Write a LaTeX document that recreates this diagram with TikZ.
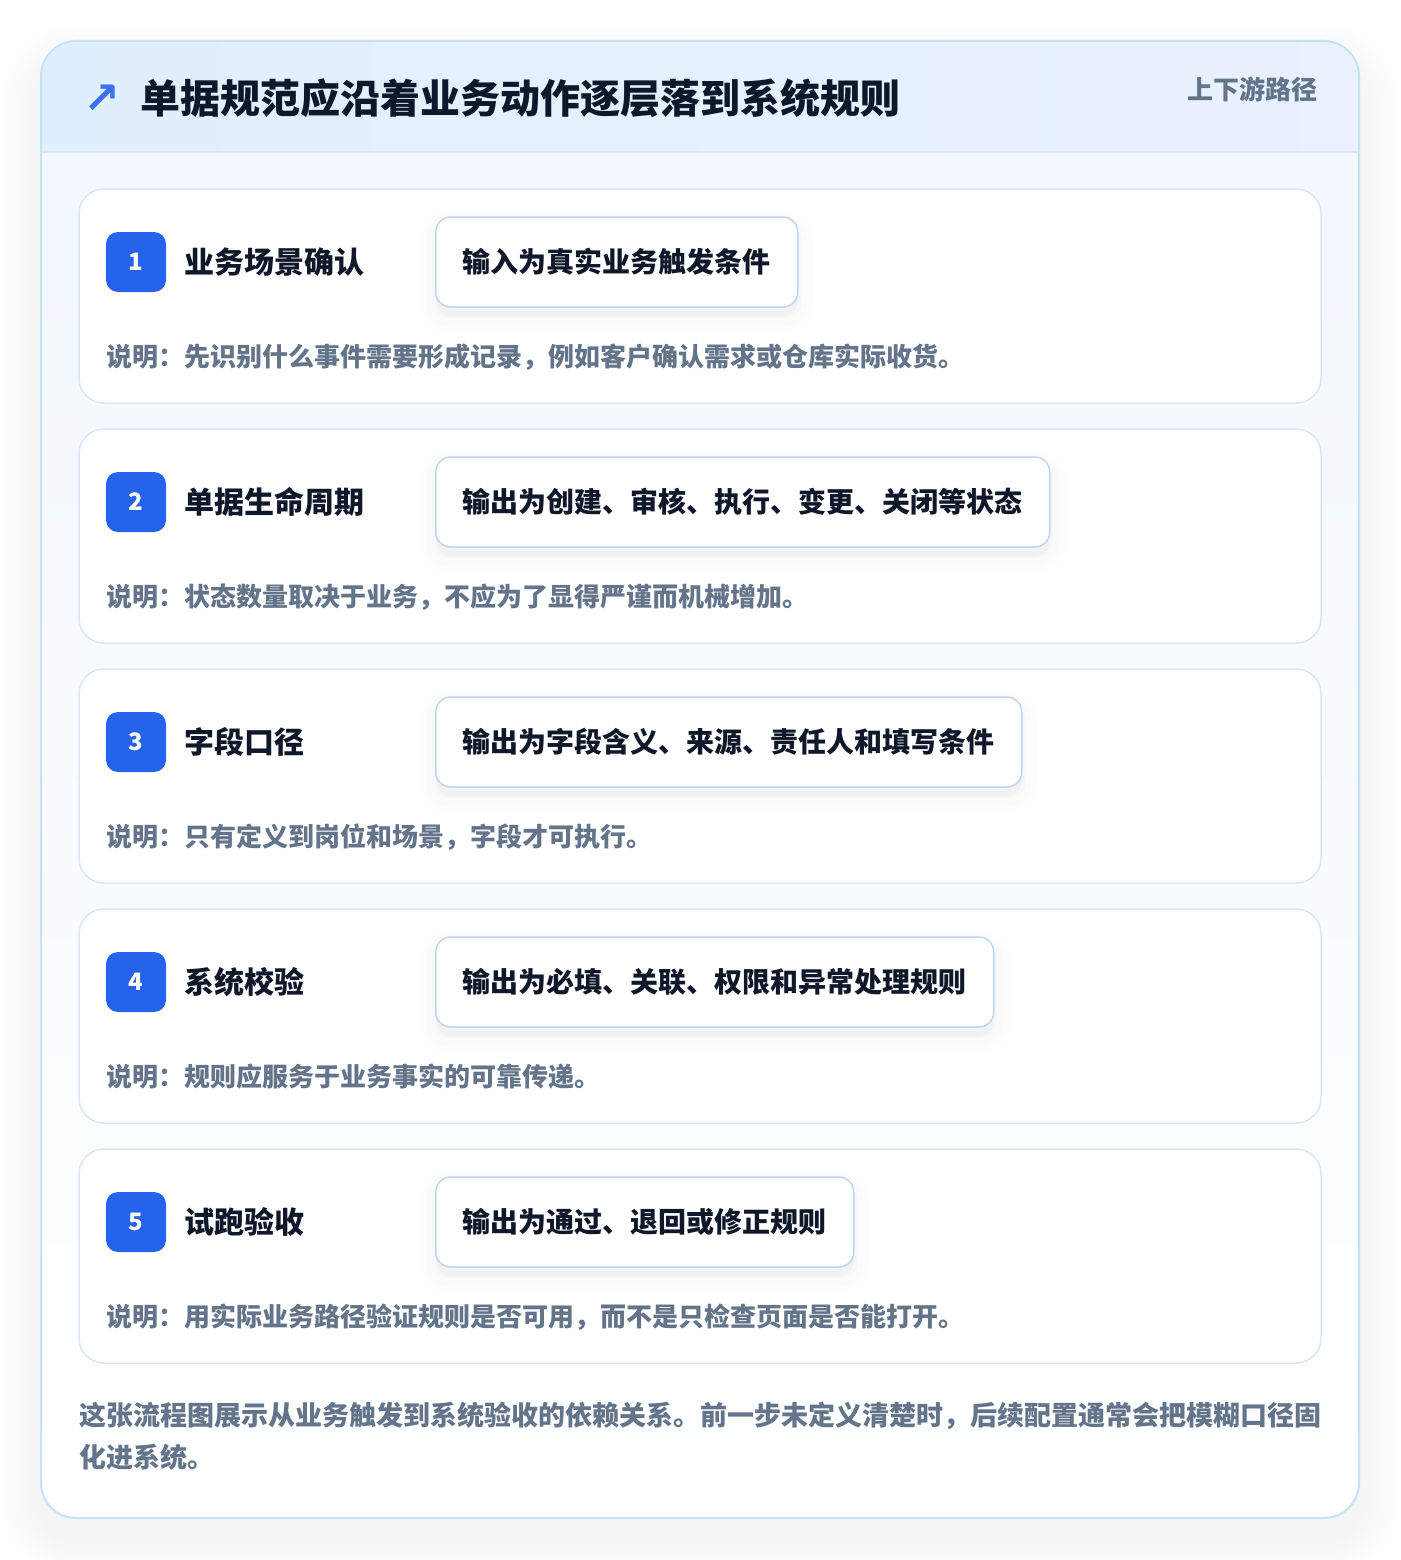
\documentclass[tikz,border=0pt]{standalone}
\usepackage{fontspec}
\setmainfont{Noto Sans CJK SC}
\newfontfamily\symfont{DejaVu Sans}
\usetikzlibrary{positioning}

\definecolor{ink}{HTML}{0F172A}
\definecolor{slate}{HTML}{64748B}
\definecolor{badgeblue}{HTML}{2563EB}
\definecolor{cardline}{HTML}{DAE7FA}
\definecolor{boxline}{HTML}{BFD5F4}
\definecolor{frameline}{HTML}{C4E3F7}
\definecolor{headleft}{HTML}{E0EFFD}
\definecolor{headright}{HTML}{EBF1FE}
\definecolor{bodytop}{HTML}{F1F7FE}

\begin{document}
\begin{tikzpicture}[x=1pt,y=-1pt,
  card/.style={draw=cardline, line width=1.5pt, fill=white, rounded corners=25pt},
  badge/.style={fill=badgeblue, rounded corners=12pt, minimum size=60pt, inner sep=0pt,
    text=white, font=\bfseries\fontsize{24}{24}\selectfont},
  steptitle/.style={anchor=west, inner sep=0pt, text=ink, font=\bfseries\fontsize{30}{30}\selectfont},
  outbox/.style={anchor=west, draw=boxline, line width=1.5pt, fill=white, rounded corners=15pt,
    minimum height=90pt, inner xsep=27pt, text=ink, font=\bfseries\fontsize{28}{28}\selectfont,
    preaction={fill=black, opacity=0.008, draw=black, line width=32pt, transform canvas={yshift=-10pt}},
    preaction={fill=black, opacity=0.008, draw=black, line width=20pt, transform canvas={yshift=-10pt}},
    preaction={fill=black, opacity=0.01, draw=black, line width=8pt, transform canvas={yshift=-8pt}}},
  note/.style={anchor=west, inner sep=0pt, text=slate, font=\bfseries\fontsize{26}{26}\selectfont}]
\useasboundingbox[fill=white] (0,0) rectangle (1400,1560);

% soft shadow of the frame
\foreach \s [evaluate=\s as \r using 35+\s] in {4,8,...,40}
  \fill[black, opacity=0.005, rounded corners=\r pt] (41-\s,63-\s) rectangle (1359+\s,1540+\s);

% frame and header band
\path[rounded corners=35pt, top color=bodytop, bottom color=white] (41,41) rectangle (1359,1518);
\begin{scope}
  \clip[rounded corners=35pt] (41,41) rectangle (1359,1518);
  \shade[left color=headleft, right color=headright] (41,41) rectangle (1359,152);
\end{scope}
\draw[cardline, line width=1.5pt] (41,152) -- (1359,152);
\draw[frameline, line width=2pt, rounded corners=35pt] (41,41) rectangle (1359,1518);

\node[inner sep=0pt, text=badgeblue!90!white, font=\symfont\bfseries\fontsize{44}{44}\selectfont] (icon) at (102,99) {↗};
\node[anchor=west, inner sep=0pt, text=ink, font=\bfseries\fontsize{40}{40}\selectfont] (title) at (140,98) {单据规范应沿着业务动作逐层落到系统规则};
\node[anchor=east, inner sep=0pt, text=slate, font=\bfseries\fontsize{26}{26}\selectfont] (path) at (1318,89) {上下游路径};

% steps
\foreach \n/\name/\out/\desc in {
  1/{业务场景确认}/{输入为真实业务触发条件}/{说明：先识别什么事件需要形成记录，例如客户确认需求或仓库实际收货。},
  2/{单据生命周期}/{输出为创建、审核、执行、变更、关闭等状态}/{说明：状态数量取决于业务，不应为了显得严谨而机械增加。},
  3/{字段口径}/{输出为字段含义、来源、责任人和填写条件}/{说明：只有定义到岗位和场景，字段才可执行。},
  4/{系统校验}/{输出为必填、关联、权限和异常处理规则}/{说明：规则应服务于业务事实的可靠传递。},
  5/{试跑验收}/{输出为通过、退回或修正规则}/{说明：用实际业务路径验证规则是否可用，而不是只检查页面是否能打开。}}{
  \pgfmathsetmacro\cy{189+240*(\n-1)}
  \draw[card] (79,\cy) rectangle (1321,\cy+214);
  \node[badge] (badge\n) at (136,\cy+73) {\n};
  \node[steptitle, right=18pt of badge\n] (name\n) {\name};
  \node[outbox] (out\n) at (435,\cy+73) {\out};
  \node[note] (note\n) at (106,\cy+168) {\desc};
}

\node[anchor=base west, inner sep=0pt, align=left, text=slate, font=\bfseries\fontsize{27}{42}\selectfont] (summary) at (79,1467)
  {这张流程图展示从业务触发到系统验收的依赖关系。前一步未定义清楚时，后续配置通常会把模糊口径固\\化进系统。};
\end{tikzpicture}
\end{document}
